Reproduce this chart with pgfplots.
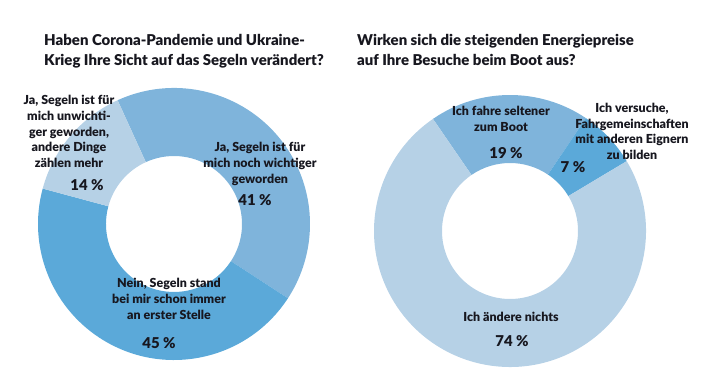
\documentclass[border=0pt]{standalone}
\usepackage{pgfplots}
\pgfplotsset{compat=1.18}
\usepackage{pgfplotstable}
\usepackage{fontspec}
\setmainfont[BoldFont={Lato Black}]{Lato}
\definecolor{midblue}{HTML}{7FB4DB}
\definecolor{darkblue}{HTML}{5BA9D9}
\definecolor{lightblue}{HTML}{B6D1E6}
\definecolor{txt}{HTML}{17171F}

% left donut: share in percent, clockwise from start angle
\pgfplotstableread{
value
41
45
14
}\leftdata
% right donut
\pgfplotstableread{
value
19
7
74
}\rightdata

\newcommand{\donutseg}[5]{% cx, cy, a1, a2, colour
  \fill[#5] (axis cs:{#1+136*cos(#3)},{#2+136*sin(#3)})
    arc[start angle=#3, end angle=#4, radius=136bp]
    -- (axis cs:{#1+68*cos(#4)},{#2+68*sin(#4)})
    arc[start angle=#4, end angle=#3, radius=68bp] -- cycle;}

\begin{document}
\begin{tikzpicture}
% cumulative angles, left
\pgfplotstablegetelem{0}{value}\of\leftdata \let\LvA\pgfplotsretval
\pgfplotstablegetelem{1}{value}\of\leftdata \let\LvB\pgfplotsretval
\pgfplotstablegetelem{2}{value}\of\leftdata \let\LvC\pgfplotsretval
\pgfmathsetmacro\LaA{114.5}
\pgfmathsetmacro\LaB{\LaA-3.6*\LvA}
\pgfmathsetmacro\LaC{\LaB-3.6*\LvB}
\pgfmathsetmacro\LaD{\LaC-3.6*\LvC}
% cumulative angles, right
\pgfplotstablegetelem{0}{value}\of\rightdata \let\RvA\pgfplotsretval
\pgfplotstablegetelem{1}{value}\of\rightdata \let\RvB\pgfplotsretval
\pgfplotstablegetelem{2}{value}\of\rightdata \let\RvC\pgfplotsretval
\pgfmathsetmacro\RaA{124.5}
\pgfmathsetmacro\RaB{\RaA-3.6*\RvA}
\pgfmathsetmacro\RaC{\RaB-3.6*\RvB}
\pgfmathsetmacro\RaD{\RaC-3.6*\RvC}
\begin{axis}[width=712bp,height=391bp,scale only axis,
  xmin=0,xmax=712,ymin=-391,ymax=0,hide axis,clip=false]
\path (rel axis cs:0,0) (rel axis cs:1,1);
\donutseg{174}{-224}{\LaA}{\LaB}{midblue}
\donutseg{174}{-224}{\LaB}{\LaC}{darkblue}
\donutseg{174}{-224}{\LaC}{\LaD}{lightblue}
\donutseg{510}{-231}{\RaA}{\RaB}{midblue}
\donutseg{510}{-231}{\RaB}{\RaC}{darkblue}
\donutseg{510}{-231}{\RaC}{\RaD}{lightblue}

% titles
\begin{scope}[every node/.style={text=txt,font=\fontsize{15}{20}\selectfont\bfseries,inner sep=0pt}]
\node[anchor=base west] at (axis cs:44,-46) {Haben Corona-Pandemie und Ukraine-};
\node[anchor=base west] at (axis cs:44,-66) {Krieg Ihre Sicht auf das Segeln verändert?};
\node[anchor=base west] at (axis cs:357,-46) {Wirken sich die steigenden Energiepreise};
\node[anchor=base west] at (axis cs:357,-66) {auf Ihre Besuche beim Boot aus?};
\end{scope}

% labels
\begin{scope}[every node/.style={text=txt,align=center,font=\fontsize{12.5}{15.8}\selectfont\bfseries,inner sep=0pt}]
\node at (axis cs:69,-131.5) {Ja, Segeln ist für\\mich unwichti-\\ger geworden,\\andere Dinge\\zählen mehr};
\node at (axis cs:260,-164) {Ja, Segeln ist für\\mich noch wichtiger\\geworden};
\node at (axis cs:169,-299) {Nein, Segeln stand\\bei mir schon immer\\an erster Stelle};
\node at (axis cs:501,-119) {Ich fahre seltener\\zum Boot};
\node at (axis cs:632,-131.5) {Ich versuche,\\Fahrgemeinschaften\\mit anderen Eignern\\zu bilden};
\node at (axis cs:511,-317) {Ich ändere nichts};
\end{scope}

% percentages
\begin{scope}[every node/.style={text=txt,font=\fontsize{15}{16}\selectfont\bfseries,inner sep=0pt}]
\node at (axis cs:87,-185) {14 \%};
\node at (axis cs:255,-200) {41 \%};
\node at (axis cs:159,-343) {45 \%};
\node at (axis cs:506,-153) {19 \%};
\node at (axis cs:573,-167) {7 \%};
\node at (axis cs:512,-341) {74 \%};
\end{scope}
\end{axis}
\end{tikzpicture}
\end{document}
